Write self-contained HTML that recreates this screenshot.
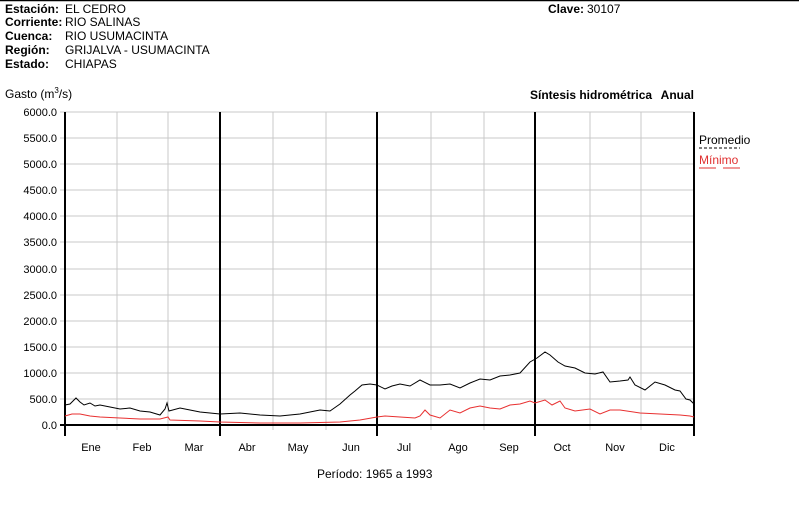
<!DOCTYPE html>
<html><head><meta charset="utf-8"><style>
body{margin:0;background:#fff;width:799px;height:512px;overflow:hidden}
svg{display:block;font-family:"Liberation Sans",Arial,sans-serif}
</style></head><body>
<svg width="799" height="512" viewBox="0 0 799 512" xmlns="http://www.w3.org/2000/svg">
<line x1="0" y1="0.5" x2="799" y2="0.5" stroke="#000" stroke-width="1.5"/>
<g font-size="12" fill="#000">
<text x="5" y="13" font-weight="bold">Estación:</text><text x="65" y="13">EL CEDRO</text>
<text x="5" y="26" font-weight="bold">Corriente:</text><text x="65" y="26">RIO SALINAS</text>
<text x="5" y="40" font-weight="bold">Cuenca:</text><text x="65" y="40">RIO USUMACINTA</text>
<text x="5" y="54" font-weight="bold">Región:</text><text x="65" y="54">GRIJALVA - USUMACINTA</text>
<text x="5" y="68" font-weight="bold">Estado:</text><text x="65" y="68">CHIAPAS</text>
<text x="548" y="13" font-weight="bold">Clave:</text><text x="587" y="13">30107</text>
<text x="5" y="98">Gasto (m<tspan dy="-5" font-size="8">3</tspan><tspan dy="5">/s)</tspan></text>
<text x="530" y="99" font-weight="bold">Síntesis hidrométrica</text>
<text x="694" y="99" text-anchor="end" font-weight="bold">Anual</text>
<text x="699" y="144">Promedio</text>
<text x="699" y="164" fill="#e03030">Mínimo</text>
<text x="317" y="478">Período:  1965 a 1993</text>
</g>
<line x1="699" y1="148" x2="740" y2="148" stroke="#000" stroke-dasharray="3,2"/>
<line x1="699" y1="168" x2="716" y2="168" stroke="#e03030"/>
<line x1="723" y1="168" x2="740" y2="168" stroke="#e03030"/>
<g stroke="#c8c8c8" stroke-width="1">
<line x1="60" y1="112" x2="694" y2="112"/><line x1="60" y1="138" x2="694" y2="138"/><line x1="60" y1="164" x2="694" y2="164"/><line x1="60" y1="190" x2="694" y2="190"/><line x1="60" y1="216" x2="694" y2="216"/><line x1="60" y1="242" x2="694" y2="242"/><line x1="60" y1="269" x2="694" y2="269"/><line x1="60" y1="295" x2="694" y2="295"/><line x1="60" y1="321" x2="694" y2="321"/><line x1="60" y1="347" x2="694" y2="347"/><line x1="60" y1="373" x2="694" y2="373"/><line x1="60" y1="399" x2="694" y2="399"/>
<line x1="117" y1="112" x2="117" y2="430"/><line x1="168" y1="112" x2="168" y2="430"/><line x1="273" y1="112" x2="273" y2="430"/><line x1="326" y1="112" x2="326" y2="430"/><line x1="431" y1="112" x2="431" y2="430"/><line x1="484" y1="112" x2="484" y2="430"/><line x1="590" y1="112" x2="590" y2="430"/><line x1="641" y1="112" x2="641" y2="430"/>
</g>
<g stroke="#000" stroke-width="2">
<line x1="65" y1="112" x2="65" y2="436"/><line x1="220" y1="112" x2="220" y2="436"/><line x1="377" y1="112" x2="377" y2="436"/><line x1="535" y1="112" x2="535" y2="436"/><line x1="694" y1="112" x2="694" y2="436"/>
<line x1="60" y1="425" x2="695" y2="425"/>
</g>
<g font-size="11" text-anchor="end" fill="#000">
<text x="57" y="116">6000.0</text><text x="57" y="142">5500.0</text><text x="57" y="168">5000.0</text><text x="57" y="194">4500.0</text><text x="57" y="220">4000.0</text><text x="57" y="246">3500.0</text><text x="57" y="273">3000.0</text><text x="57" y="299">2500.0</text><text x="57" y="325">2000.0</text><text x="57" y="351">1500.0</text><text x="57" y="377">1000.0</text><text x="57" y="403">500.0</text><text x="57" y="429">0.0</text>
</g>
<g font-size="11" text-anchor="middle" fill="#000">
<text x="91" y="451">Ene</text><text x="142" y="451">Feb</text><text x="194" y="451">Mar</text><text x="247" y="451">Abr</text><text x="298" y="451">May</text><text x="351" y="451">Jun</text><text x="404" y="451">Jul</text><text x="458" y="451">Ago</text><text x="509" y="451">Sep</text><text x="562" y="451">Oct</text><text x="615" y="451">Nov</text><text x="667" y="451">Dic</text>
</g>
<polyline fill="none" stroke="#000" stroke-width="1" points="65,405 70,404 73,401 76,398 80,402 84,405 90,403 95,406 100,405 110,407 120,409 130,408 140,411 150,412 160,415 165,409 167,403 169,411 180,408 190,410 200,412 210,413 220,414 240,413 260,415 280,416 300,414 310,412 320,410 330,411 340,404 350,395 355,391 362,385 370,384 377,385 385,389 392,386 400,384 410,386 420,380 430,385 440,385 450,384 460,388 470,383 480,379 490,380 500,376 510,375 520,373 530,362 537,358 545,352 550,355 558,362 565,366 575,368 585,373 595,374 603,372 610,382 620,381 628,380 630,377 635,385 645,390 655,382 665,385 675,390 680,391 686,399 690,400 694,404"/>
<polyline fill="none" stroke="#e83030" stroke-width="1" points="65,416 72,414 80,414 90,416 100,417 120,418 140,419 160,419 168,417 170,420 200,421 220,422 260,423 300,423 340,422 360,420 377,417 385,416 400,417 415,418 420,416 425,410 430,415 440,418 450,410 460,413 470,408 480,406 490,408 500,409 510,405 520,404 530,401 535,403 545,400 552,405 560,401 565,408 575,411 590,409 600,414 610,410 620,410 640,413 660,414 680,415 690,416 694,417"/>
</svg>
</body></html>
